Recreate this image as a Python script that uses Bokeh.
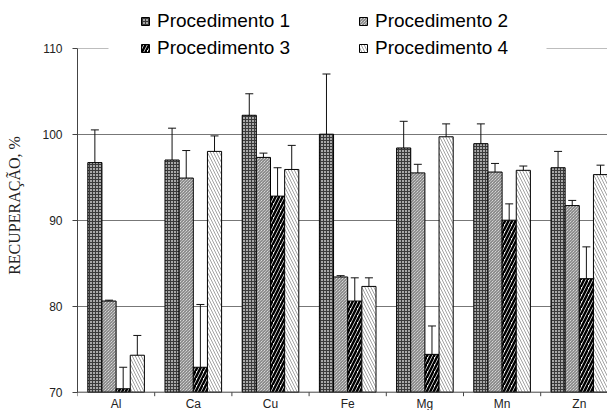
from bokeh.plotting import figure
from bokeh.models import (Range1d, FixedTicker, Span, Whisker, TeeHead, ColumnDataSource,
                          Legend, LegendItem, BoxAnnotation, Grid)
from bokeh.embed import file_html
from bokeh.resources import INLINE
from bokeh.core.properties import value

elements = ["Al", "Ca", "Cu", "Fe", "Mg", "Mn", "Zn"]
series = ["Procedimento 1", "Procedimento 2", "Procedimento 3", "Procedimento 4"]
proc1 = [96.7, 97.0, 102.2, 100.0, 98.4, 98.9, 96.1]
err1 = [3.8, 3.7, 2.5, 7.0, 3.1, 2.3, 1.9]
proc2 = [80.6, 94.9, 97.3, 83.4, 95.5, 95.6, 91.7]
err2 = [0.1, 3.2, 0.5, 0.15, 1.0, 1.0, 0.6]
proc3 = [70.4, 72.9, 92.8, 80.6, 74.4, 90.0, 83.2]
err3 = [2.5, 7.3, 3.3, 2.7, 3.3, 1.9, 3.7]
proc4 = [74.3, 98.0, 95.9, 82.3, 99.7, 95.8, 95.3]
err4 = [2.3, 1.8, 2.8, 1.0, 1.5, 0.5, 1.1]
y_ticks = [70, 80, 90, 100, 110]
y_label = "RECUPERAÇÃO, %"

values = [proc1, proc2, proc3, proc4]
errors = [err1, err2, err3, err4]
styles = [
    dict(fill_color="#a8a8a8", hatch_pattern="cross", hatch_scale=3, hatch_weight=1, hatch_color="#3a3a3a"),
    dict(fill_color="white", hatch_pattern="left_diagonal_line", hatch_scale=3, hatch_weight=0.9, hatch_color="#555555"),
    dict(fill_color="white", hatch_pattern="right_diagonal_line", hatch_scale=7, hatch_weight=2.5, hatch_color="black"),
    dict(fill_color="white", hatch_pattern="left_diagonal_line", hatch_scale=6, hatch_weight=0.8, hatch_color="#8a8a8a"),
]

W, H = 607, 410
left_px = 77
px_per_unit = 8.6
cat_px = 77.2
top_110_px = 47.7
frame_w = W - left_px
y_top = 110 + top_110_px / px_per_unit
y_bottom = y_top - H / px_per_unit
y_base = 70

p = figure(width=W, height=H, output_backend="svg", toolbar_location=None,
           x_range=Range1d(0, frame_w / cat_px), y_range=Range1d(y_bottom, y_top),
           x_axis_location=None, min_border_left=left_px, min_border_top=0,
           min_border_right=0, min_border_bottom=0)
p.outline_line_color = None
p.background_fill_color = "white"
p.border_fill_color = "white"

# grid
p.ygrid.ticker = FixedTicker(ticks=y_ticks[1:-1])
p.ygrid.grid_line_color = "#777777"
p.xgrid.grid_line_color = None
top_grid = Grid(dimension=1, ticker=FixedTicker(ticks=y_ticks[-1:]), grid_line_color="#bdbdbd")
p.add_layout(top_grid)

# y axis
yax = p.yaxis[0]
yax.ticker = FixedTicker(ticks=y_ticks)
yax.bounds = (y_ticks[0], y_ticks[-1])
yax.minor_tick_line_color = None
yax.major_tick_in = 0
yax.major_tick_out = 5
yax.major_label_standoff = 10
yax.major_label_text_font = "Liberation Sans"
yax.major_label_text_font_size = "12px"
yax.major_label_text_color = "#222222"
yax.axis_line_color = "#444444"
yax.major_tick_line_color = "#444444"
yax.axis_label = y_label
yax.axis_label_text_font = "Liberation Serif"
yax.axis_label_text_font_size = "16px"
yax.axis_label_text_font_style = "normal"
yax.axis_label_text_color = "#222222"
yax.axis_label_standoff = 16

bar_w = 0.1833
n = len(elements)
renderers = []
for k in range(4):
    xs = [i + 0.5 + (k - 1.5) * bar_w for i in range(n)]
    upper = [v + e for v, e in zip(values[k], errors[k])]
    lower = [max(v - e, y_base) for v, e in zip(values[k], errors[k])]
    src = ColumnDataSource(dict(x=xs, top=values[k], upper=upper, lower=lower))
    r = p.vbar(x="x", top="top", bottom=y_base, width=bar_w, source=src,
               line_color="black", line_width=1, **styles[k])
    renderers.append(r)
    w = Whisker(base="x", upper="upper", lower="lower", source=src,
                line_color="#111111", line_width=1,
                upper_head=TeeHead(size=8, line_color="#111111", line_width=1),
                lower_head=TeeHead(size=8, line_color="#111111", line_width=1))
    p.add_layout(w)

# x axis line, boundary ticks, category labels
p.add_layout(Span(location=y_base, dimension="width", line_color="#444444", line_width=1))
bx = list(range(n + 1))
p.segment(x0=bx, y0=[y_base] * len(bx), x1=bx, y1=[y_base - 4 / px_per_unit] * len(bx),
          line_color="#444444", line_width=1)
p.text(x=[i + 0.5 for i in range(n)], y=[y_base - 12 / px_per_unit] * n, text=elements,
       text_font=value("Liberation Sans"), text_font_size="12px", text_color="#222222",
       text_align="center", text_baseline="alphabetic")

# mask behind legend on the top line
p.add_layout(BoxAnnotation(left=31 / cat_px, right=469 / cat_px, bottom=109.6, top=110.5,
                           fill_color="white", fill_alpha=1, line_color=None))

order = [0, 2, 1, 3]
legend = Legend(items=[LegendItem(label=series[k], renderers=[renderers[k]]) for k in order],
                location=(63, 351), ncols=2, padding=5, spacing=5,
                glyph_width=10, glyph_height=10, label_standoff=7, label_width=196,
                label_text_font="Liberation Sans", label_text_font_size="19px",
                label_text_color="black", background_fill_alpha=0, border_line_color=None)
p.add_layout(legend, "center")

open("out.html", "w").write(file_html(p, INLINE))
